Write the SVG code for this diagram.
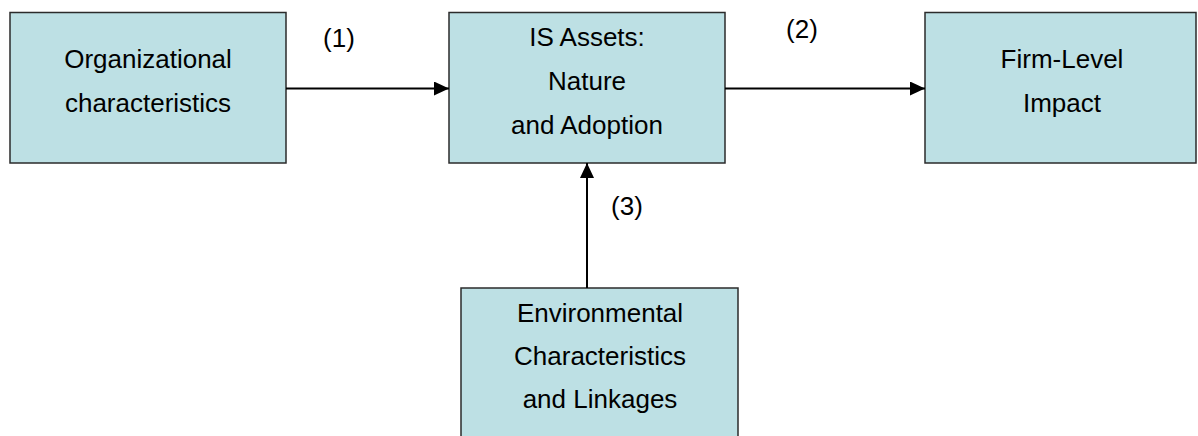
<svg xmlns="http://www.w3.org/2000/svg" width="1198" height="436" viewBox="0 0 1198 436">
<style>
.box{fill:#BDE0E4;stroke:#2b2b2b;stroke-width:1.5}
.t{font-family:"Liberation Sans",Arial,sans-serif;font-size:26px;fill:#000;text-anchor:middle}
.e{stroke:#000;stroke-width:2;fill:none}
</style>
<defs>
<marker id="ah" markerUnits="userSpaceOnUse" markerWidth="15" markerHeight="14" refX="15" refY="7" orient="auto">
<path d="M0,0 L15,7 L0,14 Z" fill="#000"/>
</marker>
</defs>
<g id="n1">
<rect class="box" x="10" y="12.5" width="276" height="150.5"/>
<text class="t" x="148" y="68">Organizational</text>
<text class="t" x="148" y="112">characteristics</text>
</g>
<g id="n2">
<rect class="box" x="449" y="12.5" width="276" height="150.5"/>
<text class="t" x="587" y="46">IS Assets:</text>
<text class="t" x="587" y="90">Nature</text>
<text class="t" x="587" y="134">and Adoption</text>
</g>
<g id="n3">
<rect class="box" x="925" y="12.5" width="271" height="150.5"/>
<text class="t" x="1062" y="68">Firm-Level</text>
<text class="t" x="1062" y="112">Impact</text>
</g>
<g id="n4">
<rect class="box" x="461" y="288" width="277" height="160"/>
<text class="t" x="600" y="322">Environmental</text>
<text class="t" x="600" y="365">Characteristics</text>
<text class="t" x="600" y="408">and Linkages</text>
</g>
<g id="connectors">
<line class="e" x1="286" y1="88.5" x2="449" y2="88.5" marker-end="url(#ah)"/>
<line class="e" x1="725" y1="88.5" x2="925" y2="88.5" marker-end="url(#ah)"/>
<line class="e" x1="587" y1="288" x2="587" y2="163" marker-end="url(#ah)"/>
<text class="t" x="339" y="47">(1)</text>
<text class="t" x="802" y="38">(2)</text>
<text class="t" x="627" y="215">(3)</text>
</g>
</svg>
